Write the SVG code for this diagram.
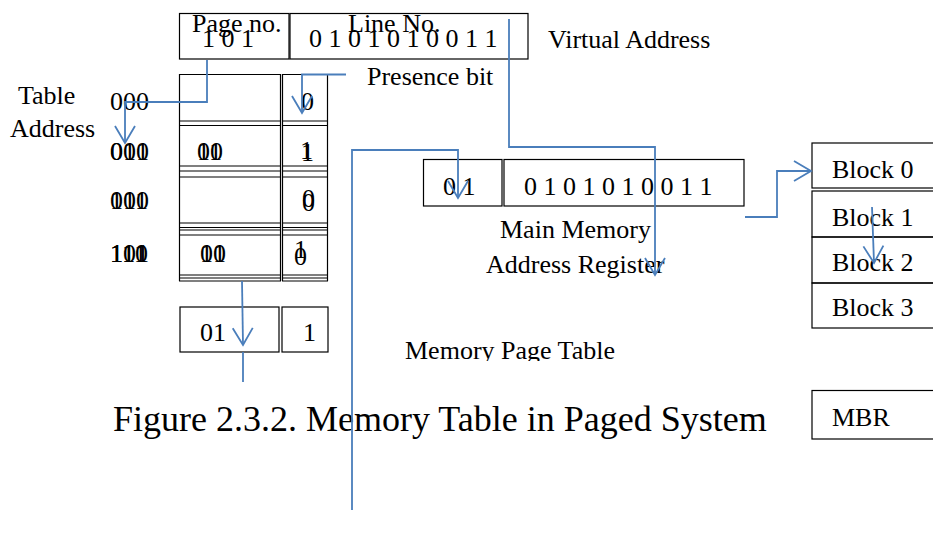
<svg xmlns="http://www.w3.org/2000/svg" width="933" height="542" viewBox="0 0 933 542">
<style>
.t{font-family:"Liberation Serif","Times New Roman",serif;font-size:26px;fill:#000}
.cap{font-family:"Liberation Serif","Times New Roman",serif;font-size:36px;fill:#000}
.bx{fill:none;stroke:#000;stroke-width:1.2}
.ln{stroke:#000;stroke-width:1.2}
.ln2{stroke:#444;stroke-width:1}
.c{fill:none;stroke:#4a7ebb;stroke-width:1.8}
</style>
<defs>
<marker id="arr" markerUnits="userSpaceOnUse" markerWidth="26" markerHeight="26" viewBox="-20 -13 26 26" refX="0" refY="0" orient="auto">
<path d="M-17,-10 L0,0 L-17,10" fill="none" stroke="#4a7ebb" stroke-width="1.8"/>
</marker>
<clipPath id="mptClip"><rect x="390" y="320" width="260" height="41"/></clipPath>
</defs>
<rect width="933" height="542" fill="#fff"/>

<g id="virtual-address">
<rect class="bx" x="179.5" y="13.5" width="109.5" height="45.5"/>
<rect class="bx" x="290" y="13.5" width="238" height="45.5"/>
<text class="t" x="192" y="32">Page no.</text>
<text class="t" x="202" y="47">1 0 1</text>
<text class="t" x="348" y="32">Line No.</text>
<text class="t" x="309" y="47">0 1 0 1 0 1 0 0 1 1</text>
<text class="t" x="548" y="48">Virtual Address</text>
</g>

<g id="table-address-label">
<text class="t" x="18" y="104">Table</text>
<text class="t" x="10" y="137">Address</text>
</g>

<g id="row-addresses">
<text class="t" x="110" y="110">000</text>
<text class="t" x="110" y="160">001</text>
<text class="t" x="110" y="160">010</text>
<text class="t" x="110" y="209">011</text>
<text class="t" x="110" y="209">100</text>
<text class="t" x="110" y="262">101</text>
<text class="t" x="110" y="262">110</text>
<text class="t" x="110" y="262">111</text>
</g>

<g id="page-table">
<line class="ln" x1="179.5" y1="74" x2="179.5" y2="281"/>
<line class="ln" x1="280.5" y1="74" x2="280.5" y2="281"/>
<line class="ln" x1="282.5" y1="74" x2="282.5" y2="281"/>
<line class="ln" x1="327.5" y1="74" x2="327.5" y2="281"/>
<g class="ln">
<line x1="179" y1="74.5" x2="281" y2="74.5"/><line x1="282" y1="74.5" x2="328" y2="74.5"/>
<line x1="179" y1="121" x2="281" y2="121"/><line x1="282" y1="121" x2="328" y2="121"/>
<line x1="179" y1="125.5" x2="281" y2="125.5"/><line x1="282" y1="125.5" x2="328" y2="125.5"/>
<line x1="179" y1="166" x2="281" y2="166"/><line x1="282" y1="166" x2="328" y2="166"/>
<line x1="179" y1="171" x2="281" y2="171"/><line x1="282" y1="171" x2="328" y2="171"/>
<line x1="179" y1="177" x2="281" y2="177"/><line x1="282" y1="177" x2="328" y2="177"/>
<line x1="179" y1="223" x2="281" y2="223"/><line x1="282" y1="223" x2="328" y2="223"/>
<line x1="179" y1="227.5" x2="281" y2="227.5"/><line x1="282" y1="227.5" x2="328" y2="227.5"/>
<line x1="179" y1="230" x2="281" y2="230"/><line x1="282" y1="230" x2="328" y2="230"/>
<line x1="179" y1="235" x2="281" y2="235"/><line x1="282" y1="235" x2="328" y2="235"/>
<line x1="179" y1="275" x2="281" y2="275"/><line x1="282" y1="275" x2="328" y2="275"/>
<line x1="179" y1="278" x2="281" y2="278"/><line x1="282" y1="278" x2="328" y2="278"/>
<line x1="179" y1="281" x2="281" y2="281"/><line x1="282" y1="281" x2="328" y2="281"/>
</g>
<text class="t" x="197" y="160">11</text>
<text class="t" x="197" y="160">00</text>
<text class="t" x="200" y="262">01</text>
<text class="t" x="200" y="262">10</text>
<text class="t" x="301" y="110">0</text>
<text class="t" x="300" y="159">1</text>
<text class="t" x="301" y="161">1</text>
<text class="t" x="302" y="207">0</text>
<text class="t" x="302" y="211">0</text>
<text class="t" x="294" y="258">1</text>
<text class="t" x="294" y="265">0</text>
</g>

<g id="presence-bit-label">
<text class="t" x="367" y="85">Presence bit</text>
</g>

<g id="selected-entry">
<rect class="bx" x="180" y="307" width="99" height="45"/>
<rect class="bx" x="282" y="307" width="46" height="45"/>
<text class="t" x="200" y="341">01</text>
<text class="t" x="303" y="341">1</text>
</g>

<g id="mmar">
<rect class="bx" x="423.5" y="159.5" width="78.5" height="46.5"/>
<rect class="bx" x="504" y="159.5" width="240" height="46.5"/>
<text class="t" x="443" y="195">0 1</text>
<text class="t" x="524" y="195">0 1 0 1 0 1 0 0 1 1</text>
<text class="t" x="500" y="238">Main Memory</text>
<text class="t" x="486" y="273">Address Register</text>
</g>

<g id="memory-page-table-label">
<text class="t" x="405" y="359" clip-path="url(#mptClip)">Memory Page Table</text>
</g>

<g id="memory-blocks">
<rect class="bx" x="812" y="143" width="130" height="45"/>
<rect class="bx" x="812" y="191" width="130" height="46"/>
<rect class="bx" x="812" y="237" width="130" height="46"/>
<rect class="bx" x="812" y="283" width="130" height="45"/>
<text class="t" x="832" y="178">Block 0</text>
<text class="t" x="832" y="226">Block 1</text>
<text class="t" x="832" y="271">Block 2</text>
<text class="t" x="832" y="316">Block 3</text>
</g>

<g id="mbr">
<rect class="bx" x="812" y="390.5" width="130" height="48.5"/>
<text class="t" x="832" y="426">MBR</text>
</g>

<g id="caption">
<text class="cap" x="113" y="431">Figure 2.3.2. Memory Table in Paged System</text>
</g>

<g id="connectors">
<path class="c" d="M207,60 V102 H125 V143" marker-end="url(#arr)"/>
<path class="c" d="M346,74.5 H302 V113" marker-end="url(#arr)"/>
<path class="c" d="M509,19 V147 H655 V275" marker-end="url(#arr)"/>
<path class="c" d="M352,510 V150 H458 V198" marker-end="url(#arr)"/>
<path class="c" d="M745,217 H777 V171 H811" marker-end="url(#arr)"/>
<path class="c" d="M872,207 L874,263" marker-end="url(#arr)"/>
<path class="c" d="M242,281 L243,345" marker-end="url(#arr)"/>
<path class="c" d="M243,352 V382"/>
</g>
</svg>
